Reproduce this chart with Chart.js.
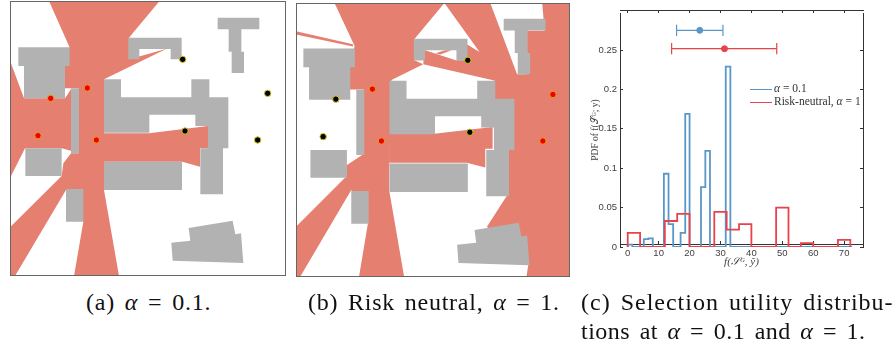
<!DOCTYPE html>
<html>
<head>
<meta charset="utf-8">
<style>
  body { margin: 0; background: #fff; width: 894px; height: 347px; overflow: hidden; position: relative; }
  canvas { position: absolute; display: block; }
  .map { box-sizing: content-box; outline: 1px solid #666; outline-offset: -1px; }
  .cap { position: absolute; font-family: "Liberation Serif", serif; font-size: 24px; white-space: nowrap; color: #111; word-spacing: 3px; }
  .cap i { font-style: italic; }
  #legend { position: absolute; left: 750px; top: 82px; font-family: "Liberation Serif", serif; font-size: 11.5px; color: #333; line-height: 13px; white-space: nowrap; }
  #legend span.s { display: inline-block; width: 22px; height: 1.5px; vertical-align: middle; margin-right: 2px; }
</style>
<script src="https://cdn.jsdelivr.net/npm/chart.js@4"></script>
</head>
<body>
<canvas id="mapA" class="map" width="276" height="275" style="left:10px;top:1px"></canvas>
<canvas id="mapB" class="map" width="274" height="274" style="left:296px;top:3px"></canvas>
<canvas id="hist" width="304" height="272" style="left:590px;top:0"></canvas>
<div id="legend">
  <div><span class="s" style="background:#5b97c6"></span><i>α</i> = 0.1</div>
  <div><span class="s" style="background:#e8434b"></span>Risk-neutral, <i>α</i> = 1</div>
</div>
<div class="cap" style="left:86px;top:289px;letter-spacing:0.8px"><span>(a) <i>α</i> = 0.1.</span></div>
<div class="cap" style="left:308px;top:289px;letter-spacing:0.75px"><span>(b) Risk neutral, <i>α</i> = 1.</span></div>
<div class="cap" style="left:581px;top:289px;letter-spacing:1px"><span>(c) Selection utility distribu-</span></div>
<div class="cap" style="left:581px;top:318px;letter-spacing:0.5px"><span>tions at <i>α</i> = 0.1 and <i>α</i> = 1.</span></div>
<script>
// buildings, same for both maps
const buildings = [
  [[55,142],[209,142],[209,198],[195,198],[195,295],[72,295],[72,198],[55,198]],
  [[213,265],[237,265],[237,460],[213,460]],
  [[76,445],[185,445],[185,528],[76,528]],
  [[198,567],[250,567],[250,665],[198,665]],
  [[385,113],[545,113],[545,178],[512,178],[512,147],[418,147],[418,178],[385,178]],
  [[653,53],[778,53],[778,88],[724,88],[724,155],[732,155],[732,219],[695,219],[695,155],[686,155],[686,88],[653,88]],
  [[312,238],[363,238],[363,292],[574,292],[574,238],[628,238],[628,292],[685,292],[685,445],[669,445],[669,583],[601,583],[601,445],[624,445],[624,378],[586,378],[586,344],[448,344],[448,398],[312,398]],
  [[312,485],[546,485],[546,570],[312,570]],
  [[566,684],[698,662],[706,703],[723,700],[730,789],[518,782],[514,728],[571,722]]
];

// visible areas
const coverA = [
  [[148,5],[477,5],[388,112],[388,178],[500,146],[312,238],[312,500],[237,500],[237,265],[195,265],[195,198],[208,140]],
  [[30,182],[72,295],[195,295],[213,268],[240,268],[240,460],[185,445],[75,445],[30,534]],
  [[300,400],[447,400],[624,378],[624,445],[600,445],[600,500],[547,485],[300,485]],
  [[213,460],[312,460],[312,570],[357,828],[222,828],[250,665],[198,570],[45,828],[30,828],[30,682],[185,528],[190,490]]
];
const coverB = [
  [[148,6],[476,6],[386,114],[386,177],[413,189],[318,236],[311,494],[235,494],[235,264],[193,264],[193,199],[208,134]],
  [[33,90],[203,129],[203,136],[33,100]],
  [[311,396],[446,396],[620,376],[620,441],[598,441],[598,497],[543,483],[311,483]],
  [[235,457],[311,457],[311,564],[356,824],[221,824],[248,662],[198,564],[45,824],[33,824],[33,674],[183,524],[183,491]],
  [[476,6],[613,6],[693,219],[723,219],[723,89],[775,89],[768,6],[851,6],[851,824],[721,824],[727,784],[603,674],[663,581],[665,444],[625,291],[625,237],[413,189],[416,146],[510,177],[543,177],[543,129],[581,152]],
  [[450,156],[478,147],[498,147],[463,160]]
];

// sensors
const chosenA = [[152,295],[262,264],[114,407],[289,420]];
const otherA = [[548,178],[803,280],[555,393],[773,420]];
const chosenB = [[261,263],[800,279],[288,418],[770,418]];
const otherB = [[152,293],[114,405],[546,177],[552,392]];

// histogram, bin edge then height
const blueEdges = [0,0,1.5,5.2,6.7,8.1,11.7,13.2,14.7,17.1,18.6,20,23.7,25.1,26.6,31.7,33.2,72.6];
const blueHeights = [0,0.003,0,0.010,0.011,0,0.093,0.029,0,0.018,0.169,0,0.076,0.122,0,0.229,0,0];
const redEdges = [0,0,4,12,16,20,28,32,36,40,48,52,56,60,68,72];
const redHeights = [0,0.018,0,0.033,0.042,0,0.0445,0.022,0.029,0,0.05,0,0.005,0,0.009,0];

// mean and spread at the top
const blueSpread = [15.8, 23.3, 30.8];
const redSpread = [14.2, 31.3, 48.2];
const blueSpreadY = 0.275;
const redSpreadY = 0.2517;

const xTicks = [0,10,20,30,40,50,60,70];
const yTicks = [0,0.05,0.1,0.15,0.2,0.25];

function shape(poly, color) {
  return { data: poly.concat([poly[0]]), showLine: true, fill: "shape", backgroundColor: color, borderColor: color, borderWidth: 0, pointRadius: 0 };
}

function sensors(pts, color, edge) {
  return { data: pts, showLine: false, pointRadius: 3.2, borderWidth: 1, backgroundColor: color, borderColor: edge };
}

function drawMap(id, cover, chosen, other, xr, yr) {
  const datasets = [sensors(chosen, "#ee0000", "#e8a020"), sensors(other, "#000000", "#d8c820")];
  buildings.forEach((b) => datasets.push(shape(b, "#b2b2b2")));
  cover.forEach((c) => datasets.push(shape(c, "#e57f70")));
  new Chart(document.getElementById(id), {
    type: "scatter",
    data: { datasets: datasets },
    options: {
      responsive: false,
      animation: false,
      layout: { padding: 0, autoPadding: false },
      plugins: { legend: { display: false }, tooltip: { enabled: false } },
      scales: {
        x: { display: false, type: "linear", min: xr[0], max: xr[1] },
        y: { display: false, type: "linear", min: yr[0], max: yr[1], reverse: true },
      },
    },
  });
}

drawMap("mapA", coverA, chosenA, otherA, [30, 858], [3, 828]);
drawMap("mapB", coverB, chosenB, otherB, [33, 851], [6, 824]);

function pairs(xs, ys) {
  return xs.map((x, i) => ({ x: x, y: ys[i] }));
}

const blue = "#5b97c6";
const red = "#e8434b";
const tickColor = "#404040";
const capHalf = 0.0072;

function whisker(s, y, color) {
  return [
    { data: [{x:s[0],y:y},{x:s[2],y:y}], showLine: true, borderColor: color, borderWidth: 1.2, pointRadius: 0 },
    { data: [{x:s[0],y:y-capHalf},{x:s[0],y:y+capHalf}], showLine: true, borderColor: color, borderWidth: 1.2, pointRadius: 0 },
    { data: [{x:s[2],y:y-capHalf},{x:s[2],y:y+capHalf}], showLine: true, borderColor: color, borderWidth: 1.2, pointRadius: 0 },
    { data: [{x:s[1],y:y}], pointRadius: 3, backgroundColor: color, borderColor: color },
  ];
}

const sideScale = (axis, position, min, max, step) => ({
  axis: axis, position: position, min: min, max: max,
  border: { color: "#333", width: 1 },
  grid: { drawOnChartArea: false, tickLength: -3, color: "#333" },
  ticks: { stepSize: step, includeBounds: false, display: false },
});

new Chart(document.getElementById("hist"), {
  type: "scatter",
  data: {
    datasets: [
      ...whisker(blueSpread, blueSpreadY, blue),
      ...whisker(redSpread, redSpreadY, red),
      { data: pairs(redEdges, redHeights), showLine: true, stepped: "before", borderColor: red, borderWidth: 1.8, pointRadius: 0 },
      { data: pairs(blueEdges, blueHeights), showLine: true, stepped: "before", borderColor: blue, borderWidth: 1.8, pointRadius: 0 },
    ],
  },
  options: {
    responsive: false,
    animation: false,
    layout: { padding: { top: 13, right: 31, left: 0, bottom: 0 }, autoPadding: false },
    plugins: { legend: { display: false }, tooltip: { enabled: false } },
    scales: {
      x: {
        min: -2.5, max: 76.1,
        border: { color: "#333", width: 1 },
        grid: { drawOnChartArea: false, tickLength: -3, color: "#333" },
        ticks: { stepSize: 10, includeBounds: false, color: tickColor, padding: 7, maxRotation: 0, font: { family: "Liberation Sans", size: 9.5 } },
        title: { display: true, text: "f(𝒮ᴳ, ỹ)", color: "#444", padding: 0, font: { family: "Liberation Serif", style: "italic", size: 11 } },
        afterBuildTicks: (s) => { s.ticks = xTicks.map((v) => ({ value: v })); },
        afterFit: (s) => { s.height = 25; },
      },
      y: {
        min: 0, max: 0.297,
        border: { color: "#333", width: 1 },
        grid: { drawOnChartArea: false, tickLength: -3, color: "#333" },
        ticks: { stepSize: 0.05, includeBounds: false, color: tickColor, padding: 6, font: { family: "Liberation Sans", size: 9.5 }, callback: (v) => String(Number(v.toFixed(2))) },
        title: { display: true, text: "PDF of f(𝒮ᴳ; y)", color: "#444", padding: 0, font: { family: "Liberation Serif", size: 9.5 } },
        afterBuildTicks: (s) => { s.ticks = yTicks.map((v) => ({ value: v })); },
        afterFit: (s) => { s.width = 30; },
      },
      x2: sideScale("x", "top", -2.5, 76.1, 10),
      y2: sideScale("y", "right", 0, 0.297, 0.05),
    },
  },
});
</script>
</body>
</html>
